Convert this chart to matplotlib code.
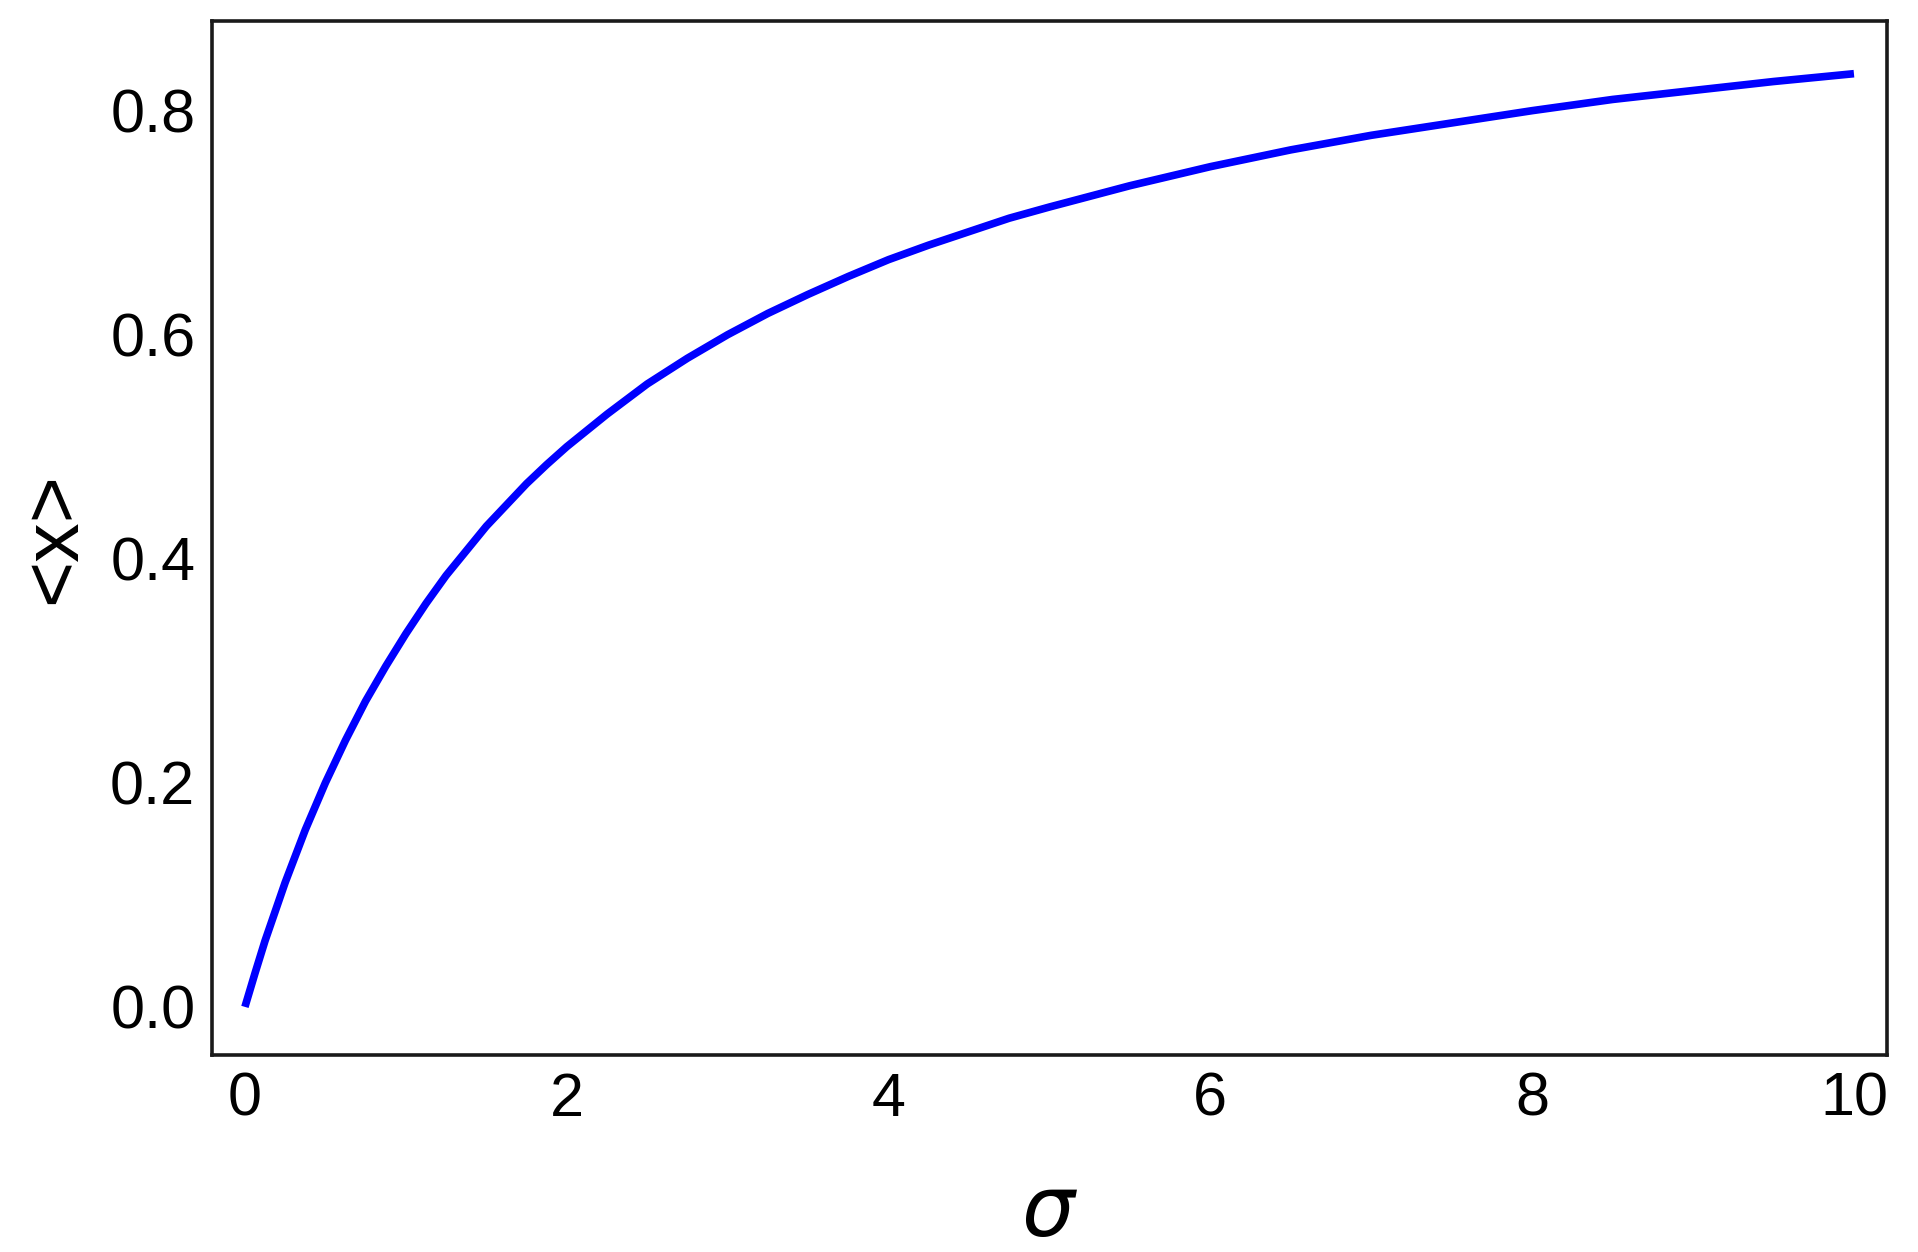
import matplotlib.pyplot as plt

# values
sigma = [0.0, 0.0625, 0.125, 0.25, 0.375, 0.5, 0.625, 0.75, 0.875, 1.0, 1.125, 1.25,
         1.375, 1.5, 1.625, 1.75, 1.875, 2.0, 2.25, 2.5, 2.75, 3.0, 3.25, 3.5, 3.75,
         4.0, 4.25, 4.5, 4.75, 5.0, 5.5, 6.0, 6.5, 7.0, 7.5, 8.0, 8.5, 9.0, 9.5, 10.0]
mean_x = [0.0, 0.030, 0.059, 0.111, 0.158, 0.200, 0.238, 0.273, 0.304, 0.333, 0.360,
          0.385, 0.407, 0.429, 0.448, 0.467, 0.484, 0.500, 0.529, 0.556, 0.579,
          0.600, 0.619, 0.636, 0.652, 0.667, 0.680, 0.692, 0.704, 0.714, 0.733,
          0.750, 0.765, 0.778, 0.789, 0.800, 0.810, 0.818, 0.826, 0.833]

plt.rcParams['font.family'] = ['Liberation Sans', 'DejaVu Sans']

fig = plt.figure(figsize=(19.18, 12.52), dpi=100)
ax = fig.add_axes([0.1105, 0.1573, 0.8733, 0.8259])

ax.plot(sigma, mean_x, color='#0000ff', lw=5.5, solid_capstyle='butt',
        solid_joinstyle='round')

ax.set_xlim(-0.205, 10.205)
ax.set_ylim(-0.043, 0.88)
ax.set_xticks([0, 2, 4, 6, 8, 10])
ax.set_yticks([0.0, 0.2, 0.4, 0.6, 0.8])
ax.tick_params(length=0, labelsize=44, pad=12)

for s in ax.spines.values():
    s.set_linewidth(2.6)
    s.set_color('#1a1a1a')

ax.set_xlabel(r'$\sigma$', fontsize=60, labelpad=33)
ax.set_ylabel('<x>', fontsize=57, labelpad=13)

fig.savefig('out.png', dpi=100)
